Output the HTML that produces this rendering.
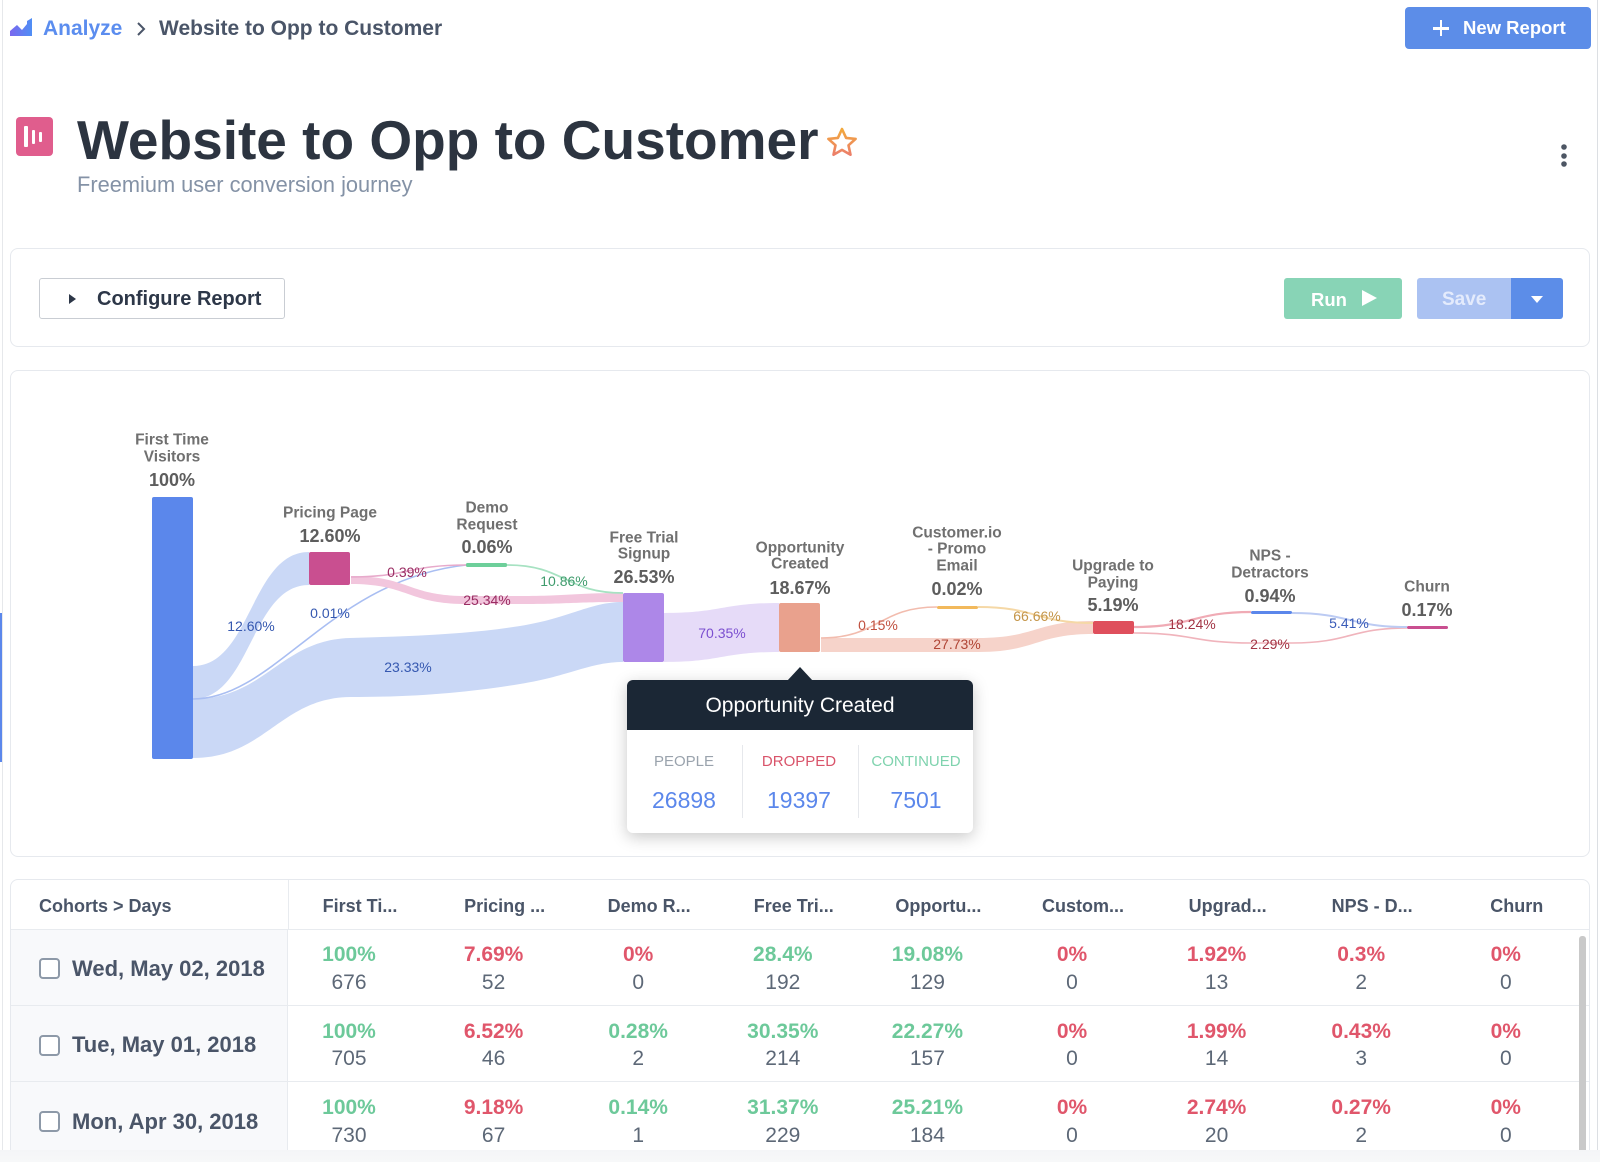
<!DOCTYPE html>
<html><head><meta charset="utf-8">
<style>
*{margin:0;padding:0;box-sizing:border-box}
html,body{width:1600px;height:1162px;overflow:hidden;background:#fff;font-family:"Liberation Sans",Arial,sans-serif}
#root{position:relative;width:1600px;height:1162px;overflow:hidden;background:#fff}
.a{position:absolute;white-space:nowrap}
.card{position:absolute;border:1px solid #e6e9ee;border-radius:8px;background:#fff}
.hd{position:absolute;width:144px;text-align:center;font-weight:bold;font-size:18px;color:#4a5568;line-height:24px;top:894px}
.pc{position:absolute;width:140px;text-align:center;font-weight:bold;font-size:21px;line-height:26px}
.ct{position:absolute;width:140px;text-align:center;font-size:21px;line-height:26px;color:#5d6877}
.g{color:#6dc99a}.r{color:#e0566b}
.dt{position:absolute;left:72px;font-weight:bold;font-size:22px;color:#4a5568;line-height:26px;white-space:nowrap}
.cb{position:absolute;left:39px;width:21px;height:21px;border:2px solid #8d99a8;border-radius:4px;background:#fff}
</style></head><body><div id="root">

<!-- page edges -->
<div class="a" style="left:2px;top:0;width:1px;height:1162px;background:#e6e8eb"></div>
<div class="a" style="left:0;top:613px;width:2px;height:149px;background:#5b87eb"></div>
<div class="a" style="left:1597px;top:0;width:1px;height:1162px;background:#dcdfe3"></div>

<!-- breadcrumb -->
<svg class="a" style="left:8px;top:16px" width="28" height="24" viewBox="8 16 28 24">
<defs><linearGradient id="ag" x1="0" y1="0" x2="1" y2="0"><stop offset="0" stop-color="#7a67ee"/><stop offset="1" stop-color="#4f8ff5"/></linearGradient></defs>
<path d="M10 36 L10 31 L17 25 L22 30 L27 24 L27 21 L32 18 L32 36 Z" fill="url(#ag)"/>
</svg>
<div class="a" style="left:43px;top:17px;font-size:21px;line-height:24px;font-weight:bold;color:#5b8def">Analyze</div>
<svg class="a" style="left:134px;top:20px" width="14" height="18"><polyline points="4,3 10,9 4,15" fill="none" stroke="#4a5568" stroke-width="2"/></svg>
<div class="a" style="left:159px;top:17px;font-size:21px;line-height:24px;font-weight:bold;color:#4a5568">Website to Opp to Customer</div>

<!-- New Report -->
<div class="a" style="left:1405px;top:7px;width:186px;height:42px;background:#5c8de8;border-radius:4px"></div>
<div class="a" style="left:1433px;top:27px;width:16px;height:2.5px;background:#fff"></div>
<div class="a" style="left:1439.8px;top:20px;width:2.5px;height:16px;background:#fff"></div>
<div class="a" style="left:1463px;top:16px;font-size:18.5px;line-height:24px;font-weight:bold;color:#fff">New Report</div>

<!-- title -->
<div class="a" style="left:16px;top:117px;width:37px;height:39px;background:#e05d8d;border-radius:4px"></div>
<div class="a" style="left:24px;top:126px;width:4px;height:21px;background:#fff;border-radius:1px"></div>
<div class="a" style="left:32px;top:130px;width:3px;height:14px;background:#fff;border-radius:1px"></div>
<div class="a" style="left:39px;top:132px;width:3px;height:10px;background:#fff;border-radius:1px"></div>
<div class="a" style="left:77px;top:112px;font-size:55px;line-height:56px;font-weight:bold;color:#2c3440">Website to Opp to Customer</div>
<svg class="a" style="left:824px;top:126px" width="36" height="34" viewBox="824 126 36 34">
<defs><linearGradient id="sg" x1="0" y1="0" x2="0" y2="1"><stop offset="0" stop-color="#f2a93c"/><stop offset="1" stop-color="#ec7f6a"/></linearGradient></defs>
<path d="M842,129 L846.1,137.9 L855.6,138.9 L848.5,145.3 L850.5,154.7 L842,149.9 L833.5,154.7 L835.5,145.3 L828.4,138.9 L837.9,137.9 Z" fill="none" stroke="url(#sg)" stroke-width="2.6" stroke-linejoin="round"/>
</svg>
<div class="a" style="left:77px;top:172px;font-size:21.8px;line-height:26px;color:#8492a6">Freemium user conversion journey</div>
<svg class="a" style="left:1558px;top:140px" width="12" height="30"><circle cx="6" cy="7" r="2.8" fill="#4d5664"/><circle cx="6" cy="16" r="2.8" fill="#4d5664"/><circle cx="6" cy="24" r="2.8" fill="#4d5664"/></svg>

<!-- configure card -->
<div class="card" style="left:10px;top:248px;width:1580px;height:99px"></div>
<div class="a" style="left:39px;top:278px;width:246px;height:41px;border:1px solid #c9cdd3;border-radius:3px;background:#fff"></div>
<div class="a" style="left:69px;top:294px;width:0;height:0;border-top:5px solid transparent;border-bottom:5px solid transparent;border-left:7px solid #2d3748"></div>
<div class="a" style="left:97px;top:287px;font-size:20px;line-height:24px;font-weight:bold;color:#2d3748">Configure Report</div>

<div class="a" style="left:1284px;top:278px;width:118px;height:41px;background:#88d4b6;border-radius:3px"></div>
<div class="a" style="left:1311px;top:288px;font-size:18.5px;line-height:24px;font-weight:bold;color:#fff">Run</div>
<div class="a" style="left:1362px;top:290px;width:0;height:0;border-top:8.5px solid transparent;border-bottom:8.5px solid transparent;border-left:15px solid #fff"></div>
<div class="a" style="left:1417px;top:278px;width:94px;height:41px;background:#abc2f2;border-radius:3px 0 0 3px"></div>
<div class="a" style="left:1442px;top:288px;font-size:19px;line-height:24px;font-weight:bold;color:#e4ebfc">Save</div>
<div class="a" style="left:1511px;top:278px;width:52px;height:41px;background:#5c8de8;border-radius:0 3px 3px 0"></div>
<div class="a" style="left:1531px;top:296px;width:0;height:0;border-left:6px solid transparent;border-right:6px solid transparent;border-top:7px solid #fff"></div>

<!-- chart card -->
<div class="card" style="left:10px;top:370px;width:1580px;height:487px"></div>

<svg class="a" style="left:0;top:0" width="1600" height="1162" viewBox="0 0 1600 1162">
<!-- links -->
<path d="M193,666 C251,666 251,552 309,552 L309,585 C251,585 251,699 193,699 Z" fill="#cad8f6"/>
<path d="M193,699 C265,699 280,640 350,638 C420,636 470,634 520,626 C570,618 590,602 623,602 L623,662 C590,662 570,676 520,684 C470,692 420,697 350,697 C280,698 265,758 193,758 Z" fill="#cad8f6"/>
<path d="M193,699 C275,699 330,580 466,565" fill="none" stroke="#a9bef2" stroke-width="1.6"/>
<path d="M351,576 C408,576 408,596 466,596 L520,596 C571,596 571,593 623,593 L623,602 C571,602 571,604 520,604 L466,604 C408,604 408,584 351,584 Z" fill="#f2c6dd"/>
<path d="M351,577 C408,577 408,565 466,565" fill="none" stroke="#e7aacb" stroke-width="1.6"/>
<path d="M507,565 C565,565 565,593 623,593" fill="none" stroke="#a7e2c2" stroke-width="1.8"/>
<path d="M664,613 C722,613 722,603 779,603 L779,652 C722,652 722,662 664,662 Z" fill="#e6dbf8"/>
<path d="M821,638 L978,638 C1036,638 1036,621 1093,621 L1093,634 C1036,634 1036,652 978,652 L821,652 Z" fill="#f6d3ca"/>
<path d="M821,638 C879,638 879,607 937,607" fill="none" stroke="#f2bcae" stroke-width="1.6"/>
<path d="M978,607 C1036,607 1036,623 1093,623" fill="none" stroke="#f5d8a6" stroke-width="2"/>
<path d="M1134,627 C1193,627 1193,612 1251,612" fill="none" stroke="#f0abb5" stroke-width="2.2"/>
<path d="M1134,633 C1193,633 1193,643 1251,643 L1292,643 C1350,643 1350,628 1407,628" fill="none" stroke="#f0b4bc" stroke-width="1.6"/>
<path d="M1292,613 C1350,613 1350,627 1407,627" fill="none" stroke="#bccbf3" stroke-width="2"/>
<!-- nodes -->
<rect x="152" y="497" width="41" height="262" rx="2" fill="#5b87eb"/>
<rect x="309" y="552" width="41" height="33" rx="2" fill="#c94f90"/>
<rect x="466" y="563" width="41" height="4" rx="1.5" fill="#6dcf9a"/>
<rect x="623" y="593" width="41" height="69" rx="2" fill="#ad87e8"/>
<rect x="779" y="603" width="41" height="49" rx="2" fill="#e9a18d"/>
<rect x="937" y="606" width="41" height="3" rx="1.5" fill="#f2b95c"/>
<rect x="1093" y="621" width="41" height="13" rx="2" fill="#df4f5c"/>
<rect x="1251" y="611" width="41" height="3" rx="1.5" fill="#5b87eb"/>
<rect x="1407" y="626" width="41" height="3" rx="1.5" fill="#c94f90"/>
<!-- node labels -->
<g font-family="Liberation Sans, Arial, sans-serif" font-weight="bold" text-anchor="middle" dominant-baseline="central">
<g font-size="15.5" fill="#707070">
<text x="172" y="440">First Time</text><text x="172" y="457">Visitors</text>
<text x="330" y="513">Pricing Page</text>
<text x="487" y="508">Demo</text><text x="487" y="525">Request</text>
<text x="644" y="538">Free Trial</text><text x="644" y="554">Signup</text>
<text x="800" y="548">Opportunity</text><text x="800" y="564">Created</text>
<text x="957" y="533">Customer.io</text><text x="957" y="549">- Promo</text><text x="957" y="566">Email</text>
<text x="1113" y="566">Upgrade to</text><text x="1113" y="583">Paying</text>
<text x="1270" y="556">NPS -</text><text x="1270" y="573">Detractors</text>
<text x="1427" y="587">Churn</text>
</g>
<g font-size="18" fill="#5d5d5d">
<text x="172" y="480">100%</text>
<text x="330" y="536">12.60%</text>
<text x="487" y="547">0.06%</text>
<text x="644" y="577">26.53%</text>
<text x="800" y="588">18.67%</text>
<text x="957" y="589">0.02%</text>
<text x="1113" y="605">5.19%</text>
<text x="1270" y="596">0.94%</text>
<text x="1427" y="610">0.17%</text>
</g>
</g>
<!-- link labels -->
<g font-family="Liberation Sans, Arial, sans-serif" font-size="14" text-anchor="middle" dominant-baseline="central">
<text x="251" y="626" fill="#3558b0">12.60%</text>
<text x="330" y="613" fill="#3558b0">0.01%</text>
<text x="408" y="667" fill="#3558b0">23.33%</text>
<text x="407" y="572" fill="#9a2d63">0.39%</text>
<text x="487" y="600" fill="#9a2d63">25.34%</text>
<text x="564" y="581" fill="#3e9b6c">10.86%</text>
<text x="722" y="633" fill="#7b4fd0">70.35%</text>
<text x="878" y="625" fill="#c0503f">0.15%</text>
<text x="957" y="644" fill="#b04535">27.73%</text>
<text x="1037" y="616" fill="#c49548">66.66%</text>
<text x="1192" y="624" fill="#a33545">18.24%</text>
<text x="1270" y="644" fill="#a33545">2.29%</text>
<text x="1349" y="623" fill="#3a5cb8">5.41%</text>
</g>
</svg>

<!-- tooltip -->
<div class="a" style="left:627px;top:680px;width:346px;height:153px;border-radius:6px;background:#fff;box-shadow:0 4px 16px rgba(0,0,0,0.22)"></div>
<div class="a" style="left:627px;top:680px;width:346px;height:50px;border-radius:6px 6px 0 0;background:#1b2735"></div>
<div class="a" style="left:787px;top:667px;width:0;height:0;border-left:13px solid transparent;border-right:13px solid transparent;border-bottom:14px solid #1b2735"></div>
<div class="a" style="left:627px;top:692px;width:346px;text-align:center;font-size:21px;line-height:28px;color:#fff">Opportunity Created</div>
<div class="a" style="left:742px;top:745px;width:1px;height:73px;background:#e6e8ec"></div>
<div class="a" style="left:858px;top:745px;width:1px;height:73px;background:#e6e8ec"></div>
<div class="a" style="left:614px;top:752px;width:140px;text-align:center;font-size:15px;line-height:20px;color:#9aa3ad">PEOPLE</div>
<div class="a" style="left:729px;top:752px;width:140px;text-align:center;font-size:15px;line-height:20px;color:#d9546a">DROPPED</div>
<div class="a" style="left:846px;top:752px;width:140px;text-align:center;font-size:15px;line-height:20px;color:#7fd3ae">CONTINUED</div>
<div class="a" style="left:614px;top:786px;width:140px;text-align:center;font-size:23px;line-height:28px;color:#5b87eb">26898</div>
<div class="a" style="left:729px;top:786px;width:140px;text-align:center;font-size:23px;line-height:28px;color:#5b87eb">19397</div>
<div class="a" style="left:846px;top:786px;width:140px;text-align:center;font-size:23px;line-height:28px;color:#5b87eb">7501</div>

<!-- table card -->
<div class="card" style="left:10px;top:879px;width:1580px;height:300px;overflow:hidden">
  <div style="position:absolute;left:0;top:49px;width:277px;height:260px;background:#f8f9fb;border-right:1px solid #e8ebef"></div>
  <div style="position:absolute;left:277px;top:0;width:1px;height:49px;background:#e8ebef"></div>
  <div style="position:absolute;left:0;top:49px;width:1580px;height:1px;background:#e8ebef"></div>
  <div style="position:absolute;left:0;top:125px;width:1580px;height:1px;background:#e8ebef"></div>
  <div style="position:absolute;left:0;top:201px;width:1580px;height:1px;background:#e8ebef"></div>
  <div style="position:absolute;left:1568px;top:56px;width:7px;height:230px;background:#c9c9c9;border-radius:3px"></div>
</div>
<div class="a" style="left:39px;top:894px;font-size:18px;line-height:24px;font-weight:bold;color:#4a5568">Cohorts &gt; Days</div>

<div class="hd" style="left:288px">First Ti...</div>
<div class="hd" style="left:432.6px">Pricing ...</div>
<div class="hd" style="left:577.2px">Demo R...</div>
<div class="hd" style="left:721.8px">Free Tri...</div>
<div class="hd" style="left:866.4px">Opportu...</div>
<div class="hd" style="left:1011px">Custom...</div>
<div class="hd" style="left:1155.6px">Upgrad...</div>
<div class="hd" style="left:1300.2px">NPS - D...</div>
<div class="hd" style="left:1444.8px">Churn</div>

<!-- rows -->
<div class="cb" style="top:958px"></div>
<div class="dt" style="top:956px">Wed, May 02, 2018</div>
<div class="cb" style="top:1035px"></div>
<div class="dt" style="top:1032px">Tue, May 01, 2018</div>
<div class="cb" style="top:1111px"></div>
<div class="dt" style="top:1109px">Mon, Apr 30, 2018</div>

<!-- row 1 -->
<div class="pc g" style="left:279px;top:942px">100%</div><div class="ct" style="left:279px;top:970px">676</div>
<div class="pc r" style="left:423.6px;top:942px">7.69%</div><div class="ct" style="left:423.6px;top:970px">52</div>
<div class="pc r" style="left:568.2px;top:942px">0%</div><div class="ct" style="left:568.2px;top:970px">0</div>
<div class="pc g" style="left:712.8px;top:942px">28.4%</div><div class="ct" style="left:712.8px;top:970px">192</div>
<div class="pc g" style="left:857.4px;top:942px">19.08%</div><div class="ct" style="left:857.4px;top:970px">129</div>
<div class="pc r" style="left:1002px;top:942px">0%</div><div class="ct" style="left:1002px;top:970px">0</div>
<div class="pc r" style="left:1146.6px;top:942px">1.92%</div><div class="ct" style="left:1146.6px;top:970px">13</div>
<div class="pc r" style="left:1291.2px;top:942px">0.3%</div><div class="ct" style="left:1291.2px;top:970px">2</div>
<div class="pc r" style="left:1435.8px;top:942px">0%</div><div class="ct" style="left:1435.8px;top:970px">0</div>
<!-- row 2 -->
<div class="pc g" style="left:279px;top:1019px">100%</div><div class="ct" style="left:279px;top:1046px">705</div>
<div class="pc r" style="left:423.6px;top:1019px">6.52%</div><div class="ct" style="left:423.6px;top:1046px">46</div>
<div class="pc g" style="left:568.2px;top:1019px">0.28%</div><div class="ct" style="left:568.2px;top:1046px">2</div>
<div class="pc g" style="left:712.8px;top:1019px">30.35%</div><div class="ct" style="left:712.8px;top:1046px">214</div>
<div class="pc g" style="left:857.4px;top:1019px">22.27%</div><div class="ct" style="left:857.4px;top:1046px">157</div>
<div class="pc r" style="left:1002px;top:1019px">0%</div><div class="ct" style="left:1002px;top:1046px">0</div>
<div class="pc r" style="left:1146.6px;top:1019px">1.99%</div><div class="ct" style="left:1146.6px;top:1046px">14</div>
<div class="pc r" style="left:1291.2px;top:1019px">0.43%</div><div class="ct" style="left:1291.2px;top:1046px">3</div>
<div class="pc r" style="left:1435.8px;top:1019px">0%</div><div class="ct" style="left:1435.8px;top:1046px">0</div>
<!-- row 3 -->
<div class="pc g" style="left:279px;top:1095px">100%</div><div class="ct" style="left:279px;top:1123px">730</div>
<div class="pc r" style="left:423.6px;top:1095px">9.18%</div><div class="ct" style="left:423.6px;top:1123px">67</div>
<div class="pc g" style="left:568.2px;top:1095px">0.14%</div><div class="ct" style="left:568.2px;top:1123px">1</div>
<div class="pc g" style="left:712.8px;top:1095px">31.37%</div><div class="ct" style="left:712.8px;top:1123px">229</div>
<div class="pc g" style="left:857.4px;top:1095px">25.21%</div><div class="ct" style="left:857.4px;top:1123px">184</div>
<div class="pc r" style="left:1002px;top:1095px">0%</div><div class="ct" style="left:1002px;top:1123px">0</div>
<div class="pc r" style="left:1146.6px;top:1095px">2.74%</div><div class="ct" style="left:1146.6px;top:1123px">20</div>
<div class="pc r" style="left:1291.2px;top:1095px">0.27%</div><div class="ct" style="left:1291.2px;top:1123px">2</div>
<div class="pc r" style="left:1435.8px;top:1095px">0%</div><div class="ct" style="left:1435.8px;top:1123px">0</div>

<!-- bottom fade strip -->
<div class="a" style="left:0;top:1150px;width:1600px;height:12px;background:linear-gradient(#f4f5f7,#f7f8f9)"></div>

</div></body></html>
